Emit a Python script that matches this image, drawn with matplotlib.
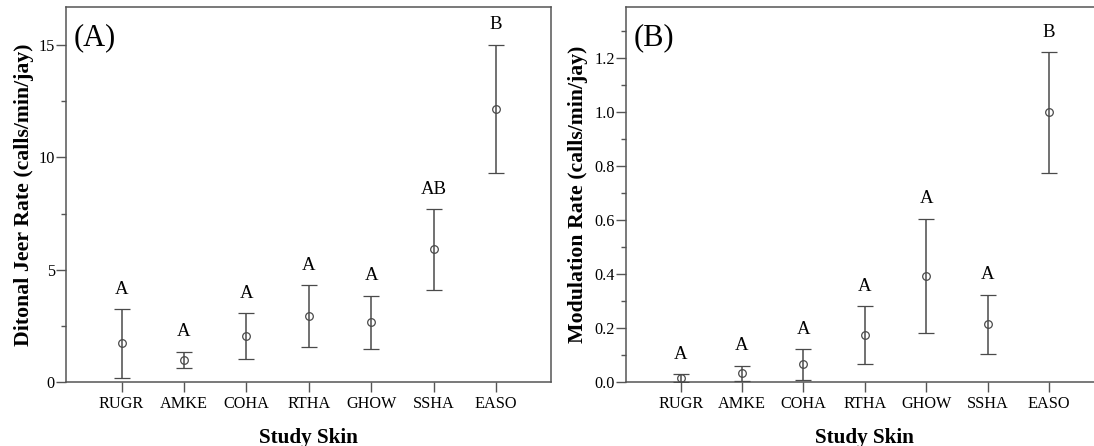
import matplotlib
matplotlib.use("Agg")
import matplotlib.pyplot as plt
from matplotlib.ticker import MultipleLocator, FormatStrFormatter
import numpy as np

plt.rcParams['font.family'] = ['Liberation Serif', 'DejaVu Serif']

categories = ['RUGR', 'AMKE', 'COHA', 'RTHA', 'GHOW', 'SSHA', 'EASO']

jeer_mean = [1.73, 0.99, 2.06, 2.95, 2.67, 5.91, 12.15]
jeer_lower = [0.20, 0.62, 1.04, 1.56, 1.48, 4.10, 9.29]
jeer_upper = [3.24, 1.36, 3.07, 4.31, 3.85, 7.69, 15.00]
jeer_letters = ['A', 'A', 'A', 'A', 'A', 'AB', 'B']

mod_mean = [0.015, 0.035, 0.068, 0.174, 0.394, 0.214, 0.998]
mod_lower = [0.000, 0.005, 0.010, 0.067, 0.183, 0.105, 0.774]
mod_upper = [0.030, 0.061, 0.122, 0.281, 0.604, 0.323, 1.220]
mod_letters = ['A', 'A', 'A', 'A', 'A', 'A', 'B']

W, H = 1094, 446
fig = plt.figure(figsize=(W / 100, H / 100), dpi=100)

line_col = '#4a4a4a'
spine_col = '#555555'


def panel(rect, mean, lower, upper, letters, ylim, major, minor, fmt, ylabel, tag, ylab_x):
    ax = fig.add_axes(rect)
    x = np.arange(1, len(categories) + 1)
    mean = np.asarray(mean)
    yerr = np.vstack([mean - np.asarray(lower), np.asarray(upper) - mean])
    ax.errorbar(x, mean, yerr=yerr, fmt='o', ms=5.5, mfc='none', mec=line_col,
                mew=0.9, ecolor=line_col, elinewidth=1.1, capsize=5.5, capthick=1.1,
                color=line_col, clip_on=True, zorder=3)
    for xi, up, lab in zip(x, upper, letters):
        ax.annotate(lab, xy=(xi, up), xytext=(0, 14.4), textcoords='offset points',
                    ha='center', va='center', fontsize=13.5)
    ax.set_xlim(0.11, 7.88)
    ax.set_ylim(*ylim)
    ax.set_xticks(x)
    ax.set_xticklabels(categories)
    ax.yaxis.set_major_locator(MultipleLocator(major))
    ax.yaxis.set_minor_locator(MultipleLocator(minor))
    ax.yaxis.set_major_formatter(FormatStrFormatter(fmt))
    ax.tick_params(axis='x', which='major', length=7, width=1.0, pad=3,
                   labelsize=11.7, color=spine_col, bottom=True, top=False)
    ax.tick_params(axis='x', which='minor', bottom=False, top=False)
    ax.tick_params(axis='y', which='major', length=7, width=1.0, pad=1,
                   labelsize=11.7, color=spine_col, left=True, right=False)
    ax.tick_params(axis='y', which='minor', length=3.5, width=1.0,
                   color=spine_col, left=True, right=False)
    for s in ax.spines.values():
        s.set_color(spine_col)
        s.set_linewidth(1.1)
    ax.set_ylabel(ylabel, fontsize=15.7, fontweight='bold')
    ax.yaxis.set_label_coords(ylab_x, 0.5)
    ax.set_xlabel('Study Skin', fontsize=15.2, fontweight='bold')
    ax.xaxis.set_label_coords(0.5, -0.122)
    ax.text(0.0165, 0.919, tag, transform=ax.transAxes, fontsize=22,
            ha='left', va='center')
    return ax


left_rect = [66 / W, (H - 382.3) / H, (551 - 66) / W, (382.3 - 7) / H]
right_rect = [626 / W, (H - 382.3) / H, (1103 - 626) / W, (382.3 - 7) / H]

panel(left_rect, jeer_mean, jeer_lower, jeer_upper, jeer_letters,
      (0, 16.68), 5, 2.5, '%d', 'Ditonal Jeer Rate (calls/min/jay)', '(A)', -0.066)
panel(right_rect, mod_mean, mod_lower, mod_upper, mod_letters,
      (0, 1.387), 0.2, 0.1, '%.1f', 'Modulation Rate (calls/min/jay)', '(B)', -0.080)

fig.savefig('out.png', dpi=100)
